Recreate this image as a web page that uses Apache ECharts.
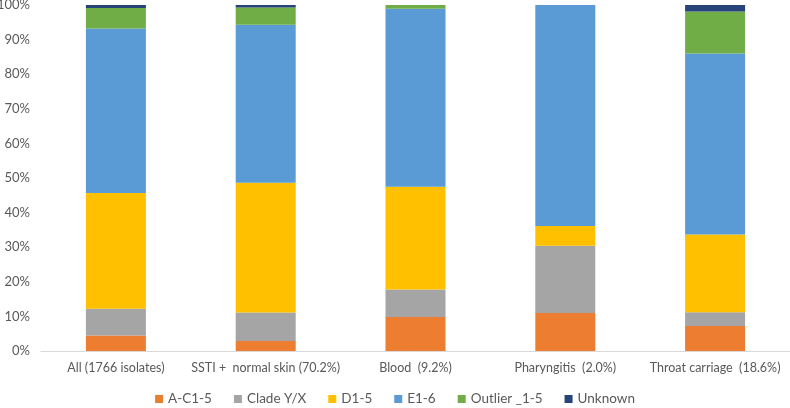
<!DOCTYPE html>
<html>
<head>
<meta charset="utf-8">
<script src="https://cdn.jsdelivr.net/npm/echarts@6/dist/echarts.min.js"></script>
<style>html,body{margin:0;padding:0;background:#fff;}#c{width:790px;height:408px;}</style>
</head>
<body>
<div id="c"></div>
<script>
const categories = ["All (1766 isolates)", "SSTI +  normal skin (70.2%)", "Blood  (9.2%)", "Pharyngitis  (2.0%)", "Throat carriage  (18.6%)"];
const seriesNames = ["A-C1-5", "Clade Y/X", "D1-5", "E1-6", "Outlier _1-5", "Unknown"];
const acValues = [4.5, 2.9, 9.8, 11.0, 7.2];
const cladeValues = [7.7, 8.2, 8.0, 19.4, 4.0];
const dValues = [33.5, 37.5, 29.7, 5.7, 22.5];
const eValues = [47.5, 45.7, 51.4, 63.9, 52.3];
const outlierValues = [5.9, 5.0, 1.1, 0, 12.1];
const unknownValues = [0.9, 0.7, 0, 0, 1.9];
const yTicks = [0, 10, 20, 30, 40, 50, 60, 70, 80, 90, 100];

const colors = ["#ED7D31", "#A5A5A5", "#FFC000", "#5B9BD5", "#70AD47", "#264478"];
const allValues = [acValues, cladeValues, dValues, eValues, outlierValues, unknownValues];
const font = "Lato, 'Open Sans', sans-serif";

const chart = echarts.init(document.getElementById('c'));
chart.setOption({
  animation: false,
  color: colors,
  textStyle: { fontFamily: font },
  grid: { left: 41, right: 0, top: 5, bottom: 57, containLabel: false, outerBoundsMode: 'none' },
  legend: {
    bottom: -3,
    left: 'center',
    icon: 'rect',
    itemWidth: 8,
    itemHeight: 8,
    itemGap: 22,
    textStyle: { fontSize: 13.5, color: '#595959', fontFamily: font },
    data: seriesNames
  },
  xAxis: {
    type: 'category',
    data: categories,
    axisLine: { lineStyle: { color: '#D9D9D9' } },
    axisTick: { show: false },
    axisLabel: { color: '#595959', fontSize: 12.5, margin: 10, fontFamily: font, interval: 0 }
  },
  yAxis: {
    type: 'value',
    min: yTicks[0],
    max: yTicks[yTicks.length - 1],
    interval: 10,
    splitLine: { show: false },
    axisLine: { show: false },
    axisTick: { show: false },
    axisLabel: { color: '#595959', fontSize: 13, margin: 11, fontFamily: font, formatter: '{value}%' }
  },
  series: seriesNames.map((n, i) => ({
    name: n,
    type: 'bar',
    stack: 'total',
    barWidth: 60,
    data: allValues[i],
    itemStyle: { color: colors[i] }
  }))
});
</script>
</body>
</html>
